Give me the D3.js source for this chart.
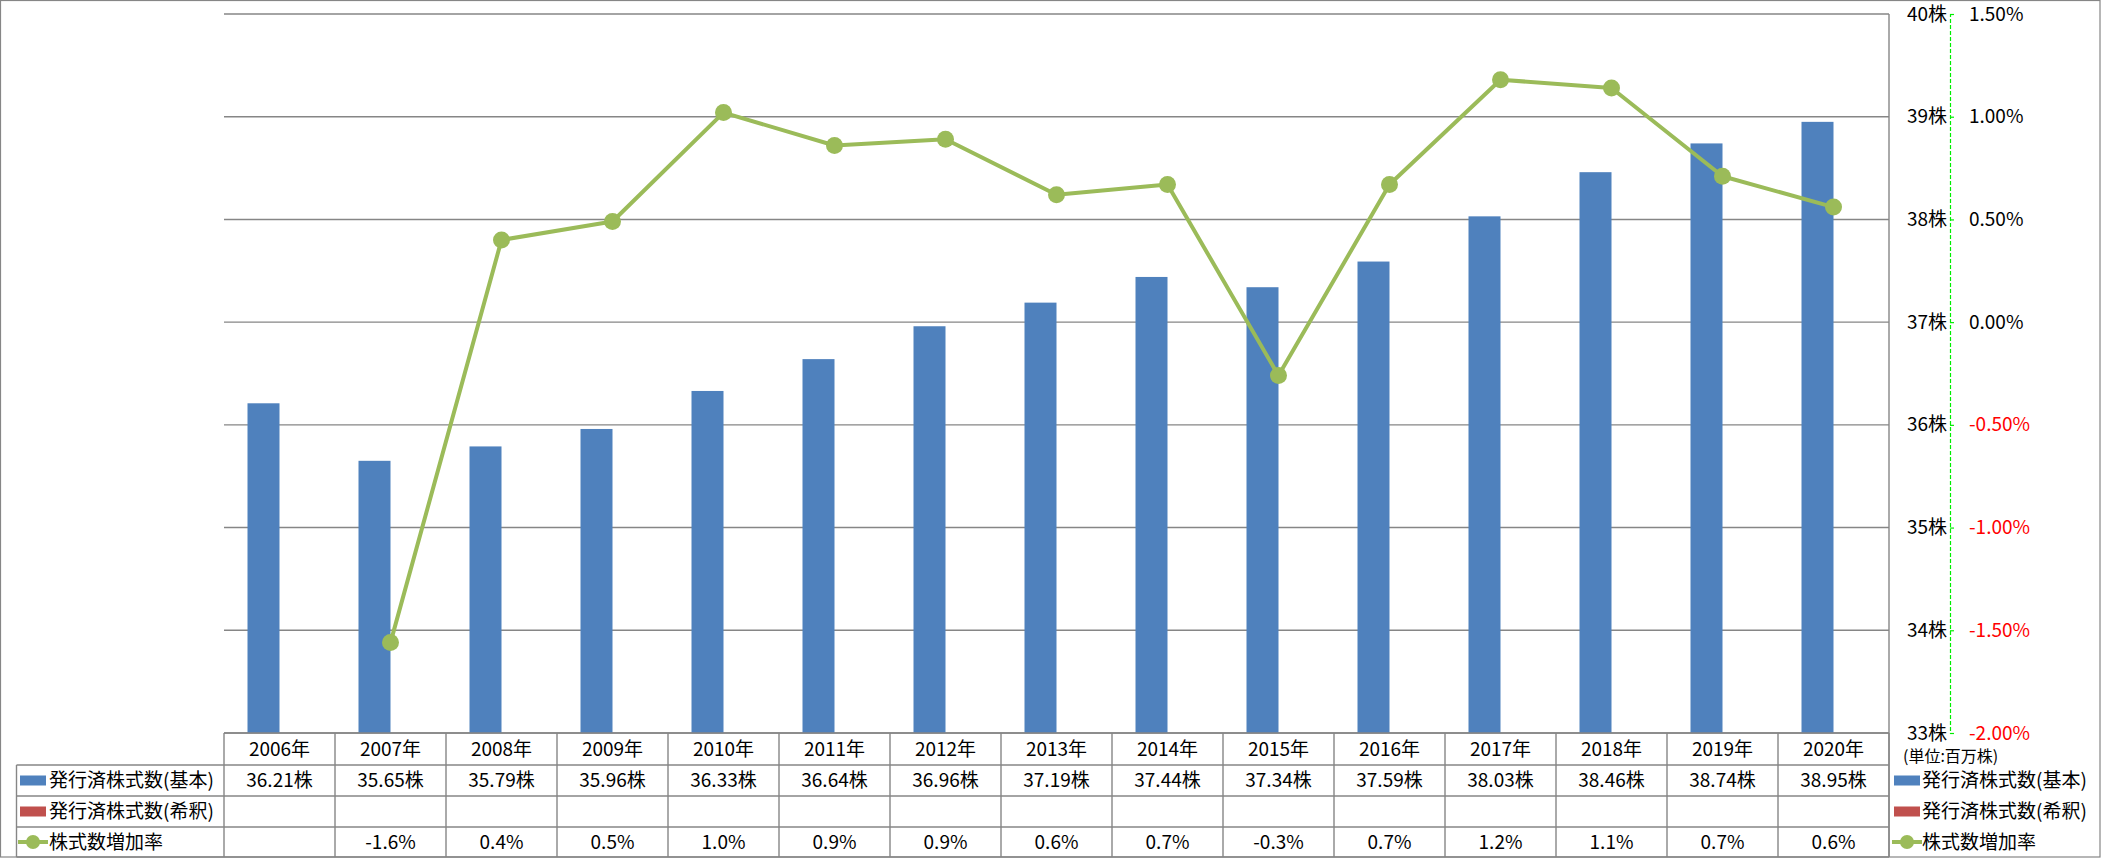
<!DOCTYPE html>
<html>
<head>
<meta charset="utf-8">
<script src="https://cdn.jsdelivr.net/npm/d3@7"></script>
<style>
  html, body { margin: 0; padding: 0; background: #fff; }
  svg { display: block; }
  text { font-family: "Noto Sans CJK JP", "Noto Sans", sans-serif; fill: #000; }
</style>
</head>
<body>
<svg id="chart" width="2101" height="858"></svg>
<script>
// ---- data ----
const years = ["2006年","2007年","2008年","2009年","2010年","2011年","2012年","2013年","2014年","2015年","2016年","2017年","2018年","2019年","2020年"];
const seriesNames = ["発行済株式数(基本)", "発行済株式数(希釈)", "株式数増加率"];
const sharesBasic = [36.21, 35.65, 35.79, 35.96, 36.33, 36.64, 36.96, 37.19, 37.44, 37.34, 37.59, 38.03, 38.46, 38.74, 38.95];
const sharesDiluted = [null, null, null, null, null, null, null, null, null, null, null, null, null, null, null];
const growthRate = [null, -1.56, 0.40, 0.49, 1.02, 0.86, 0.89, 0.62, 0.67, -0.26, 0.67, 1.18, 1.14, 0.71, 0.56];
const countTicks = [33, 34, 35, 36, 37, 38, 39, 40];
const pctTicks = [-2.0, -1.5, -1.0, -0.5, 0.0, 0.5, 1.0, 1.5];
const unitLabel = "(単位:百万株)";

// ---- layout ----
const W = 2101, H = 858;
const plotL = 224, plotR = 1889, plotT = 14, plotB = 733;
const rowLines = [733, 765, 796, 827, 857];
const tableLeft = 16.5;
const axisX = 1950;
const blue = "#4F81BD", red = "#C0504D", green = "#9BBB59", gridC = "#868686";
const fs = 19;

const loc = d3.formatLocale({ decimal: ".", thousands: ",", grouping: [3], currency: ["", ""], minus: "-" });
const f1 = loc.format(".1f"), f2 = loc.format(".2f");

const svg = d3.select("#chart");

// outer border
svg.append("rect").attr("x", 0.5).attr("y", 0.5).attr("width", W - 1.5).attr("height", H - 1.5)
  .attr("fill", "none").attr("stroke", gridC).attr("stroke-width", 1.2);

// scales
const pi = 47 / 111;
const x = d3.scaleBand().domain(years).range([plotL, plotR]).paddingInner(pi).paddingOuter(pi / 2);
const step = x.step();
const xSub = d3.scaleBand().domain(["basic", "diluted"]).range([0, x.bandwidth()]);
const yCount = d3.scaleLinear().domain([33, 40]).range([plotB, plotT]);
const yPct = d3.scaleLinear().domain([-2, 1.5]).range([plotB, plotT]);

// gridlines
svg.append("g").selectAll("line").data(countTicks).join("line")
  .attr("x1", plotL).attr("x2", plotR)
  .attr("y1", d => yCount(d)).attr("y2", d => yCount(d))
  .attr("stroke", gridC).attr("stroke-width", 1.4);
// plot right border
svg.append("line").attr("x1", plotR).attr("x2", plotR).attr("y1", plotT).attr("y2", H - 1)
  .attr("stroke", gridC).attr("stroke-width", 1.4);

// bars
svg.append("g").selectAll("rect").data(sharesBasic).join("rect")
  .attr("x", (d, i) => x(years[i]) + xSub("basic"))
  .attr("width", xSub.bandwidth())
  .attr("y", d => yCount(d))
  .attr("height", d => plotB - yCount(d))
  .attr("fill", blue);
svg.append("g").selectAll("rect")
  .data(sharesDiluted.map((v, i) => ({ v, i })).filter(d => d.v != null)).join("rect")
  .attr("x", d => x(years[d.i]) + xSub("diluted"))
  .attr("width", xSub.bandwidth())
  .attr("y", d => yCount(d.v))
  .attr("height", d => plotB - yCount(d.v))
  .attr("fill", red);

// line
const pts = growthRate.map((v, i) => ({ v, i })).filter(d => d.v != null);
const line = d3.line().x(d => x(years[d.i]) + x.bandwidth() / 2).y(d => yPct(d.v));
svg.append("path").datum(pts).attr("d", line)
  .attr("fill", "none").attr("stroke", green).attr("stroke-width", 4)
  .attr("stroke-linejoin", "round");
svg.append("g").selectAll("circle").data(pts).join("circle")
  .attr("cx", d => x(years[d.i]) + x.bandwidth() / 2)
  .attr("cy", d => yPct(d.v)).attr("r", 8.5).attr("fill", green);

// right axes
const aPct = svg.append("g").attr("transform", `translate(${axisX},0)`)
  .call(d3.axisRight(yPct).tickValues(pctTicks).tickSize(4).tickSizeOuter(4).tickPadding(15)
    .tickFormat(d => f2(d) + "%"));
aPct.select(".domain").attr("stroke", "#00ee00").attr("stroke-dasharray", "4,2").attr("stroke-width", 1.2);
aPct.selectAll(".tick line").attr("stroke", "#00ee00").attr("stroke-width", 1.2);
aPct.selectAll(".tick text").attr("font-size", fs).attr("font-family", null)
  .style("fill", d => d < 0 ? "#ff0000" : "#000");

const aCnt = svg.append("g").attr("transform", `translate(${axisX - 2},0)`)
  .call(d3.axisLeft(yCount).tickValues(countTicks).tickSize(0).tickPadding(1)
    .tickFormat(d => d + "株"));
aCnt.select(".domain").remove();
aCnt.selectAll(".tick text").attr("font-size", fs).attr("font-family", null);

svg.append("text").attr("x", 1903).attr("y", 756).attr("dy", "0.35em")
  .attr("font-size", 16).text(unitLabel);

// data table
const tbl = svg.append("g");
tbl.selectAll("line.h").data(rowLines).join("line")
  .attr("x1", (d, i) => i === 0 ? plotL : tableLeft).attr("x2", plotR)
  .attr("y1", d => d).attr("y2", d => d)
  .attr("stroke", gridC).attr("stroke-width", 1.4);
const colEdges = d3.range(years.length + 1).map(i => plotL + i * step);
tbl.selectAll("line.v").data(colEdges).join("line")
  .attr("x1", d => d).attr("x2", d => d).attr("y1", rowLines[0]).attr("y2", H - 1)
  .attr("stroke", gridC).attr("stroke-width", 1.4);
tbl.append("line").attr("x1", tableLeft).attr("x2", tableLeft).attr("y1", rowLines[1]).attr("y2", H - 1)
  .attr("stroke", gridC).attr("stroke-width", 1.4);

const rowMid = i => (rowLines[i] + rowLines[i + 1]) / 2;
const colMid = y => x(y) + x.bandwidth() / 2;
tbl.selectAll("text.yr").data(years).join("text")
  .attr("x", d => colMid(d)).attr("y", rowMid(0)).attr("dy", "0.35em")
  .attr("text-anchor", "middle").attr("font-size", fs).text(d => d);
tbl.selectAll("text.bv").data(sharesBasic).join("text")
  .attr("x", (d, i) => colMid(years[i])).attr("y", rowMid(1)).attr("dy", "0.35em")
  .attr("text-anchor", "middle").attr("font-size", fs).text(d => f2(d) + "株");
tbl.selectAll("text.gv").data(pts).join("text")
  .attr("x", d => colMid(years[d.i])).attr("y", rowMid(3)).attr("dy", "0.35em")
  .attr("text-anchor", "middle").attr("font-size", fs).text(d => f1(d.v) + "%");

// legend keys (left in table, right side)
function legendKey(g, k, cx, cy) {
  if (k === 2) {
    g.append("line").attr("x1", cx - 15).attr("x2", cx + 15).attr("y1", cy).attr("y2", cy)
      .attr("stroke", green).attr("stroke-width", 4);
    g.append("circle").attr("cx", cx).attr("cy", cy).attr("r", 7).attr("fill", green);
  } else {
    g.append("rect").attr("x", cx - 13).attr("y", cy - 5).attr("width", 26).attr("height", 10)
      .attr("fill", k === 0 ? blue : red);
  }
}
seriesNames.forEach((name, k) => {
  const cy = rowMid(k + 1);
  legendKey(tbl, k, 33, cy);
  tbl.append("text").attr("x", 49).attr("y", cy).attr("dy", "0.35em").attr("font-size", fs).text(name);
  legendKey(svg, k, 1907, cy);
  svg.append("text").attr("x", 1922).attr("y", cy).attr("dy", "0.35em").attr("font-size", fs).text(name);
});
</script>
</body>
</html>
